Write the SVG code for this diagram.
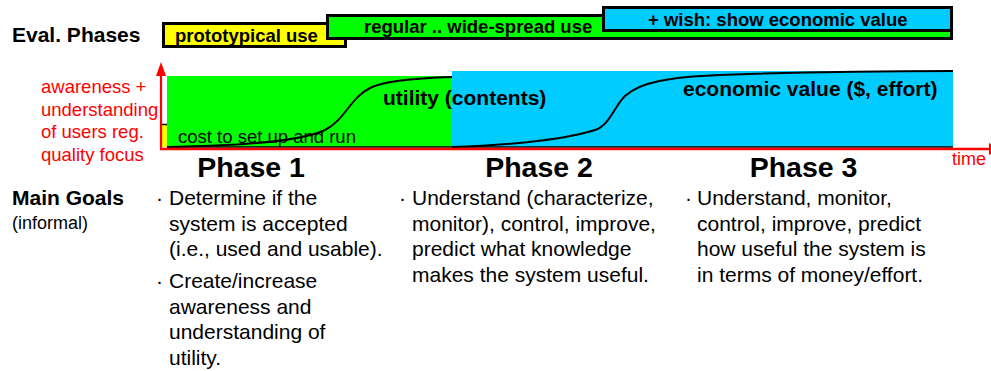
<svg xmlns="http://www.w3.org/2000/svg" width="991" height="371" viewBox="0 0 991 371">
<style>
text{font-family:"Liberation Sans",Arial,Helvetica,sans-serif;fill:#000}
.b{font-weight:bold}
.box{stroke:#000;stroke-width:3}
.red{fill:#FF0000}
.body{font-size:21px}
.phase{font-size:28.5px;font-weight:bold;text-anchor:middle}
.curve{fill:none;stroke:#000;stroke-width:2}
</style>
<rect width="991" height="371" fill="#fff"/>
<g id="eval-label"><text class="b" x="12" y="42" font-size="21">Eval. Phases</text></g>
<g id="box-prototypical">
<rect class="box" x="163.5" y="23.5" width="182" height="23" fill="#FFFF00"/>
<text class="b" x="175" y="42" font-size="18.5">prototypical use</text>
</g>
<g id="box-regular">
<rect class="box" x="327.5" y="15.5" width="624" height="23" fill="#00FF00"/>
<text class="b" x="364" y="33" font-size="18.5">regular .. wide-spread use</text>
</g>
<g id="box-wish">
<rect class="box" x="603.5" y="7.5" width="348" height="23" fill="#00CCFF"/>
<text class="b" x="648" y="26" font-size="18.5">+ wish: show economic value</text>
</g>
<g id="chart">
<rect x="167" y="76" width="285" height="71" fill="#00FF00"/>
<rect x="452" y="71" width="501" height="76" fill="#00CCFF"/>
<rect x="162" y="124.5" width="5" height="22.5" fill="#FFFF00"/>
<line x1="162" y1="124.5" x2="167" y2="124.5" stroke="#000" stroke-width="1.5"/>
<line x1="167" y1="147" x2="953" y2="147" stroke="#000" stroke-width="1.5"/>
<path class="curve" d="M167,147 C230,146 300,142 325,130 C345,120 350,98 370,88 C385,80 420,78 452,77"/>
<path class="curve" d="M452,147 C520,145 570,138 595,130 C610,125 615,105 625,96 C640,82 670,77 720,75 C800,72 900,71 953,71"/>
<text class="b" x="383" y="105" font-size="21">utility (contents)</text>
<text class="b" x="683" y="96" font-size="21">economic value ($, effort)</text>
<text x="178" y="143" font-size="18.5">cost to set up and run</text>
</g>
<g id="axes">
<line x1="161" y1="74" x2="161" y2="150" stroke="#FF0000" stroke-width="2.2"/>
<polygon points="161,62 156,76 166,76" fill="#FF0000"/>
<line x1="160" y1="149" x2="990" y2="149" stroke="#FF0000" stroke-width="2.5"/>
<polygon points="989,143 1001,149 989,155" fill="#FF0000"/>
<text class="red" x="952" y="165" font-size="18">time</text>
<text class="red" font-size="18.5"><tspan x="41" y="93">awareness +</tspan><tspan x="41" y="115.5">understanding</tspan><tspan x="41" y="138">of users reg.</tspan><tspan x="41" y="160.5">quality focus</tspan></text>
</g>
<g id="phase-titles">
<text class="phase" x="251" y="177">Phase 1</text>
<text class="phase" x="539" y="177">Phase 2</text>
<text class="phase" x="803.5" y="177">Phase 3</text>
</g>
<g id="main-goals">
<text class="b" x="12" y="205" font-size="21">Main Goals</text>
<text x="12" y="229" font-size="18">(informal)</text>
</g>
<g id="goals-phase1" class="body">
<text class="body" x="156" y="205">·</text>
<text class="body"><tspan x="169" y="205">Determine if the</tspan><tspan x="169" y="230.5">system is accepted</tspan><tspan x="169" y="256">(i.e., used and usable).</tspan></text>
<text class="body" x="156" y="288">·</text>
<text class="body"><tspan x="169" y="288">Create/increase</tspan><tspan x="169" y="313.5">awareness and</tspan><tspan x="169" y="339">understanding of</tspan><tspan x="169" y="364.5">utility.</tspan></text>
</g>
<g id="goals-phase2">
<text class="body" x="399" y="205">·</text>
<text class="body"><tspan x="412" y="205">Understand (characterize,</tspan><tspan x="412" y="230.5">monitor), control, improve,</tspan><tspan x="412" y="256">predict what knowledge</tspan><tspan x="412" y="281.5">makes the system useful.</tspan></text>
</g>
<g id="goals-phase3">
<text class="body" x="685" y="205">·</text>
<text class="body"><tspan x="697" y="205">Understand, monitor,</tspan><tspan x="697" y="230.5">control, improve, predict</tspan><tspan x="697" y="256">how useful the system is</tspan><tspan x="697" y="281.5">in terms of money/effort.</tspan></text>
</g>
</svg>
